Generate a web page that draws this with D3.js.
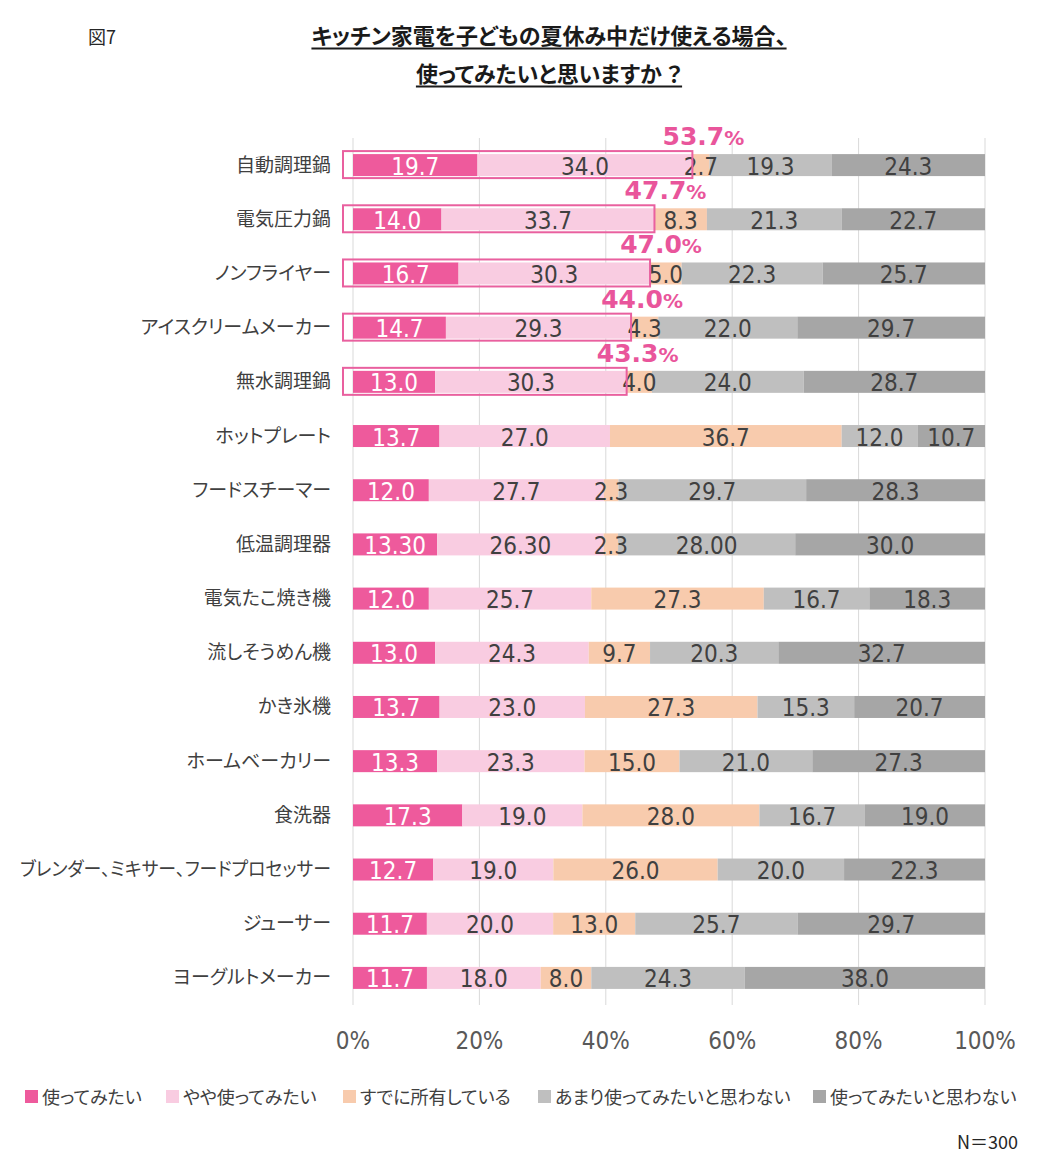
<!DOCTYPE html>
<html><head><meta charset="utf-8">
<script src="https://cdn.jsdelivr.net/npm/d3@7"></script>
<style>
body{margin:0;background:#fff;}
svg{display:block;}
.jp{font-family:"Noto Sans CJK JP","Noto Sans",sans-serif;font-feature-settings:"palt";}
.num{font-family:"DejaVu Sans Condensed","DejaVu Sans",sans-serif;}
</style>
</head><body>
<script>
const categories = ["自動調理鍋","電気圧力鍋","ノンフライヤー","アイスクリームメーカー","無水調理鍋","ホットプレート","フードスチーマー","低温調理器","電気たこ焼き機","流しそうめん機","かき氷機","ホームベーカリー","食洗器","ブレンダー、ミキサー、フードプロセッサー","ジューサー","ヨーグルトメーカー"];
const seriesNames = ["使ってみたい","やや使ってみたい","すでに所有している","あまり使ってみたいと思わない","使ってみたいと思わない"];
const want      = ["19.7","14.0","16.7","14.7","13.0","13.7","12.0","13.30","12.0","13.0","13.7","13.3","17.3","12.7","11.7","11.7"];
const somewhat  = ["34.0","33.7","30.3","29.3","30.3","27.0","27.7","26.30","25.7","24.3","23.0","23.3","19.0","19.0","20.0","18.0"];
const owned     = ["2.7","8.3","5.0","4.3","4.0","36.7","2.3","2.3","27.3","9.7","27.3","15.0","28.0","26.0","13.0","8.0"];
const notMuch   = ["19.3","21.3","22.3","22.0","24.0","12.0","29.7","28.00","16.7","20.3","15.3","21.0","16.7","20.0","25.7","24.3"];
const notAtAll  = ["24.3","22.7","25.7","29.7","28.7","10.7","28.3","30.0","18.3","32.7","20.7","27.3","19.0","22.3","29.7","38.0"];
const highlighted = 5;
const ticks = [0,20,40,60,80,100];
const colors = ["#EE5A9C","#F9CCE1","#F8CBAD","#BFBFBF","#A6A6A6"];
const labelColors = ["#FFFFFF","#404040","#404040","#404040","#404040"];

const W=1040,H=1176;
const svg=d3.select("body").append("svg").attr("width",W).attr("height",H);
const x=d3.scaleLinear().domain([0,100]).range([353,985]);
const y=d3.scaleBand().domain(categories).range([138,1005]).paddingInner(0.594).paddingOuter(0.297);
const all=[want,somewhat,owned,notMuch,notAtAll];

// title
svg.append("text").attr("class","jp").attr("x",88).attr("y",44).attr("font-size",18).attr("fill","#262626").text("図7");
const tl=[["キッチン家電を子どもの夏休み中だけ使える場合、",44],["使ってみたいと思いますか ？",82]];
tl.forEach(([t,yy])=>{
  const tx=svg.append("text").attr("class","jp").attr("x",549).attr("y",yy).attr("text-anchor","middle")
    .attr("font-size",22).attr("font-weight","bold").attr("fill","#1a1a1a").text(t);
  const w=tx.node().getComputedTextLength();
  svg.append("line").attr("x1",549-w/2).attr("x2",549+w/2).attr("y1",yy+4.5).attr("y2",yy+4.5).attr("stroke","#1a1a1a").attr("stroke-width",2);
});

// grid
svg.append("g").selectAll("line").data(ticks).join("line")
  .attr("x1",d=>x(d)).attr("x2",d=>x(d)).attr("y1",138).attr("y2",1005)
  .attr("stroke","#D9D9D9").attr("stroke-width",1);
svg.append("g").selectAll("text").data(ticks).join("text").attr("class","num")
  .attr("x",d=>x(d)).attr("y",1049).attr("text-anchor","middle").attr("font-size",24).attr("fill","#595959")
  .text(d=>d+"%");

// bars
const rows=categories.map((c,i)=>{
  const vals=all.map(s=>s[i]);
  const sum=d3.sum(vals,v=>+v);
  let acc=0;
  const segs=vals.map((v,k)=>{const s={c,k,label:v,x0:acc/sum*100,x1:(acc+ +v)/sum*100};acc+=+v;return s;});
  return {c,i,segs};
});
const g=svg.append("g");
rows.forEach(r=>{
  g.selectAll(null).data(r.segs).join("rect")
    .attr("x",d=>x(d.x0)).attr("width",d=>x(d.x1)-x(d.x0))
    .attr("y",y(r.c)).attr("height",y.bandwidth()).attr("fill",d=>colors[d.k]);
});
rows.forEach(r=>{
  g.selectAll(null).data(r.segs).join("text").attr("class","num")
    .attr("x",d=>(x(d.x0)+x(d.x1))/2).attr("y",y(r.c)+y.bandwidth()/2+9.5)
    .attr("text-anchor","middle").attr("font-size",24).attr("fill",d=>labelColors[d.k]).text(d=>d.label);
});

// category labels
svg.append("g").selectAll("text").data(categories).join("text").attr("class","jp")
  .attr("x",331).attr("y",d=>y(d)+y.bandwidth()/2+6.5).attr("text-anchor","end")
  .attr("font-size",19).attr("fill","#404040").text(d=>d)
  .each(function(){const w=this.getComputedTextLength(); if(w>311){d3.select(this).attr("textLength",311).attr("lengthAdjust","spacingAndGlyphs");}});

// highlight boxes
rows.slice(0,highlighted).forEach(r=>{
  const end=x(r.segs[1].x1);
  const top=y(r.c);
  svg.append("rect").attr("x",343).attr("y",top-3).attr("width",end-343).attr("height",y.bandwidth()+5)
    .attr("fill","none").attr("stroke","#E9609F").attr("stroke-width",2);
  const tot=(+want[r.i]+ +somewhat[r.i]).toFixed(1);
  const t=svg.append("text").attr("x",end+11).attr("y",top-9).attr("text-anchor","middle")
    .attr("font-family","DejaVu Sans, sans-serif").attr("font-weight","bold").attr("fill","#E9559B");
  t.append("tspan").attr("font-size",25).text(tot);
  t.append("tspan").attr("font-size",20).text("%");
});

// legend
const lx=[25,166,343,538,813];
const lg=svg.append("g");
seriesNames.forEach((n,k)=>{
  lg.append("rect").attr("x",lx[k]).attr("y",1090).attr("width",13).attr("height",13).attr("fill",colors[k]);
  lg.append("text").attr("class","jp").attr("x",lx[k]+17).attr("y",1103.5).attr("font-size",18).attr("fill","#404040").text(n);
});
svg.append("text").attr("class","jp").attr("x",1018).attr("y",1149).attr("text-anchor","end").attr("font-size",18).attr("fill","#262626").text("N＝300");
</script>
</body></html>
